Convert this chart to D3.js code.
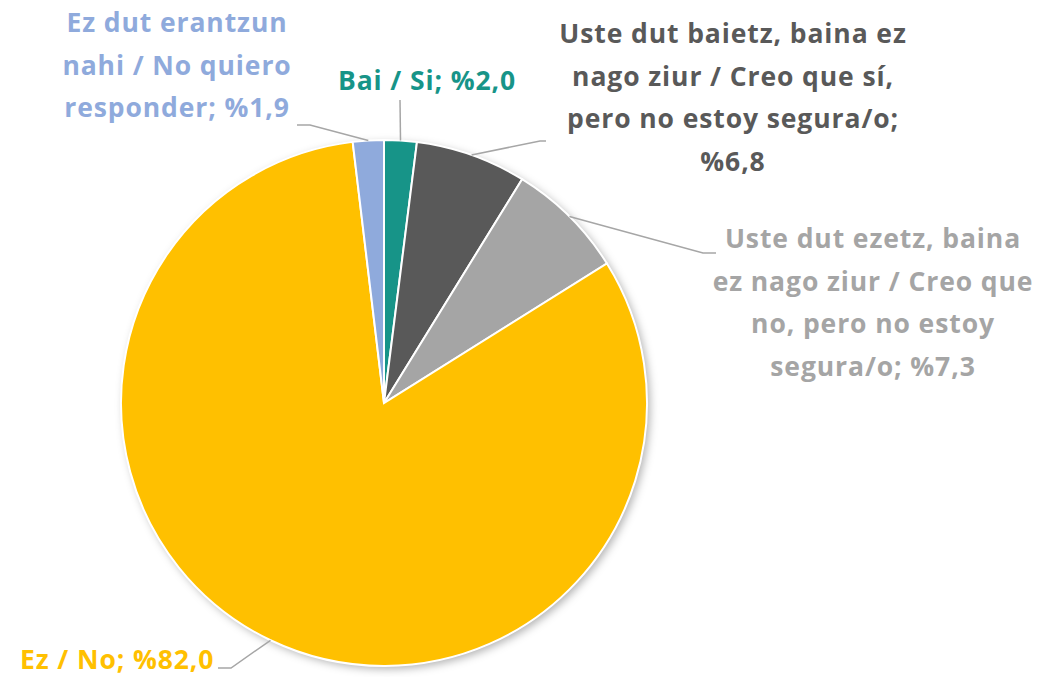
<!DOCTYPE html>
<html>
<head>
<meta charset="utf-8">
<script src="https://cdn.jsdelivr.net/npm/d3@7"></script>
<style>
  body { margin: 0; background: #fff; }
  text { font-family: "Open Sans", "DejaVu Sans", sans-serif; font-weight: 700; }
</style>
</head>
<body>
<div id="pie_chart"></div>
<script>
// slice data, clockwise from 12 o'clock
const categories = ["Bai / Si", "Uste dut baietz, baina ez nago ziur / Creo que sí, pero no estoy segura/o",
  "Uste dut ezetz, baina ez nago ziur / Creo que no, pero no estoy segura/o", "Ez / No",
  "Ez dut erantzun nahi / No quiero responder"];
const shares = [2.0, 6.8, 7.3, 82.0, 1.9];
const colors = ["#179488", "#595959", "#a5a5a5", "#ffc000", "#8faadc"];
const labelLines = [
  ["Bai / Si; %2,0"],
  ["Uste dut baietz, baina ez", "nago ziur / Creo que sí,", "pero no estoy segura/o;", "%6,8"],
  ["Uste dut ezetz, baina", "ez nago ziur / Creo que", "no, pero no estoy", "segura/o; %7,3"],
  ["Ez / No; %82,0"],
  ["Ez dut erantzun", "nahi / No quiero", "responder; %1,9"]
];

const width = 1050, height = 677;
const cx = 384, cy = 403, radius = 263;

// label placement: anchor x, first line y, anchor, leader line end
const labelPos = [
  {x: 427, y: 90, anchor: "middle", elbow: [400, 100], end: [400, 100]},
  {x: 733, y: 43, anchor: "middle", elbow: [540, 141], end: [546, 141]},
  {x: 873, y: 248, anchor: "middle", elbow: [703, 253], end: [716, 253]},
  {x: 20, y: 669, anchor: "start", elbow: [231, 668], end: [218, 668]},
  {x: 177, y: 32, anchor: "middle", elbow: [310, 125], end: [297, 125]}
];
const lineHeight = 42.5;

const svg = d3.select("#pie_chart").append("svg")
  .attr("width", width).attr("height", height);

const defs = svg.append("defs");
const shadow = defs.append("filter").attr("id", "shadow")
  .attr("x", "-20%").attr("y", "-20%").attr("width", "140%").attr("height", "140%");
shadow.append("feDropShadow").attr("dx", 3).attr("dy", 3).attr("stdDeviation", 4)
  .attr("flood-color", "#000").attr("flood-opacity", 0.3);

const pie = d3.pie().sort(null).value(d => d)(shares);
const arc = d3.arc().innerRadius(0).outerRadius(radius);
const edge = d3.arc().innerRadius(radius).outerRadius(radius);

const g = svg.append("g").attr("transform", `translate(${cx},${cy})`);

g.append("circle").attr("r", radius).attr("fill", "#fff").attr("filter", "url(#shadow)");

g.selectAll("path.slice")
  .data(pie)
  .join("path")
  .attr("class", "slice")
  .attr("d", arc)
  .attr("fill", (d, i) => colors[i])
  .attr("stroke", "#fff")
  .attr("stroke-width", 2);

// leader lines
svg.selectAll("polyline.leader")
  .data(pie)
  .join("polyline")
  .attr("class", "leader")
  .attr("fill", "none")
  .attr("stroke", "#a6a6a6")
  .attr("stroke-width", 1.5)
  .attr("points", (d, i) => {
    const c = edge.centroid(d);
    const p = labelPos[i];
    return [[cx + c[0], cy + c[1]], p.elbow, p.end].map(q => q.join(",")).join(" ");
  });

// labels
labelLines.forEach((lines, i) => {
  const p = labelPos[i];
  const t = svg.append("text")
    .attr("text-anchor", p.anchor)
    .attr("fill", i === 1 ? "#595959" : colors[i])
    .attr("font-size", 26.5)
    .attr("letter-spacing", 0.9);
  lines.forEach((s, j) => {
    t.append("tspan").attr("x", p.x).attr("y", p.y + j * lineHeight).text(s);
  });
});
</script>
</body>
</html>
